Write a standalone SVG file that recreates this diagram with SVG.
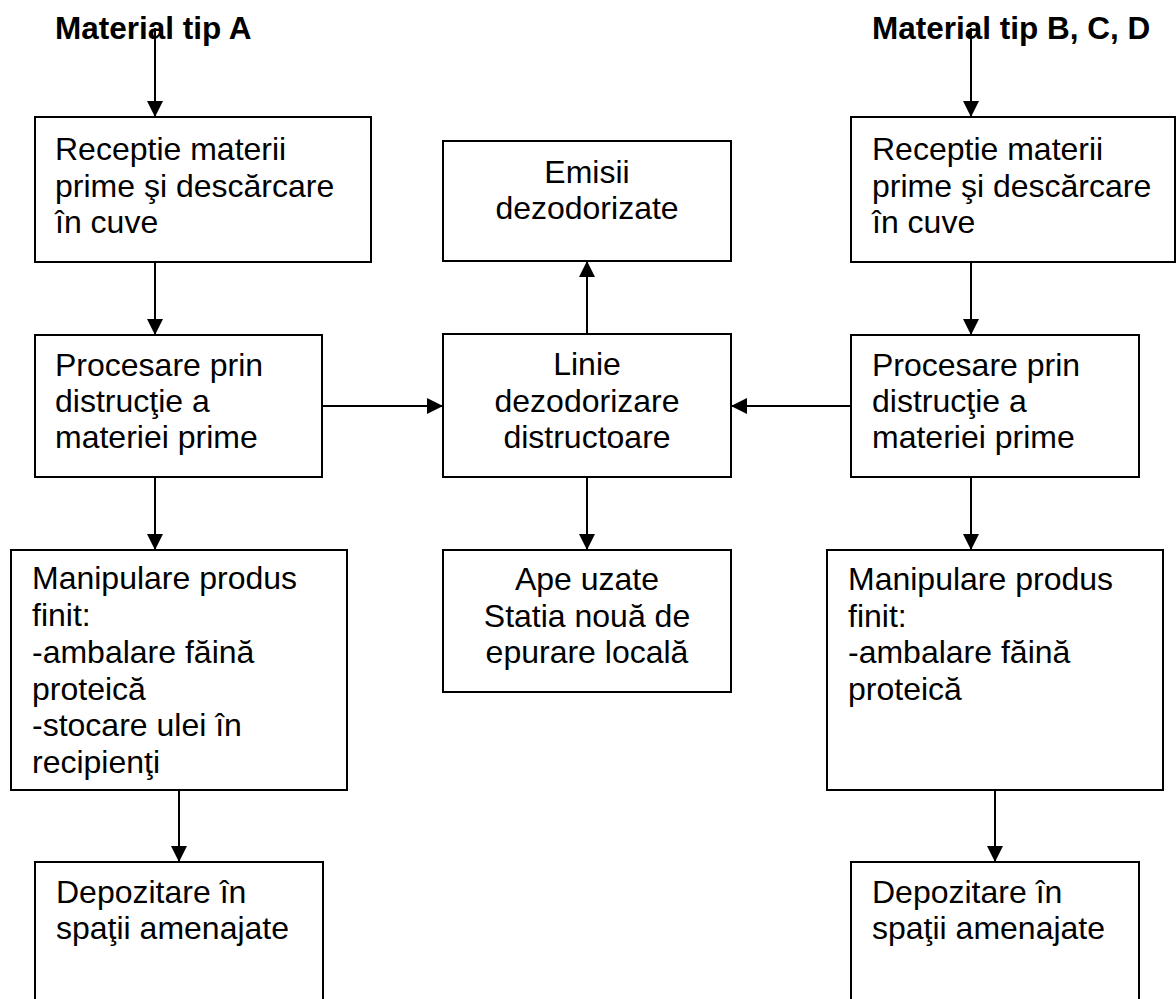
<svg xmlns="http://www.w3.org/2000/svg" width="1176" height="999" viewBox="0 0 1176 999">
<style>
.box{fill:#fff;stroke:#000;stroke-width:2}
.t{font-family:"Liberation Sans",Arial,sans-serif;font-size:32px;fill:#000}
.c{text-anchor:middle}
.title{font-family:"Liberation Sans",Arial,sans-serif;font-size:31.5px;font-weight:bold;fill:#000}
.ln{stroke:#000;stroke-width:2;fill:none;marker-end:url(#ah)}
</style>
<defs>
<marker id="ah" markerUnits="userSpaceOnUse" markerWidth="18" markerHeight="18" refX="16" refY="8" orient="auto">
<path d="M0,0 L16,8 L0,16 z" fill="#000"/>
</marker>
</defs>
<rect width="1176" height="999" fill="#fff"/>
<g id="title-a"><text class="title" x="55" y="39">Material tip A</text></g>
<g id="title-b"><text class="title" x="872" y="39">Material tip B, C, D</text></g>
<g id="a1"><rect class="box" x="35" y="117" width="336" height="145"/>
<text class="t" x="55" y="160">Receptie materii</text>
<text class="t" x="55" y="197">prime şi descărcare</text>
<text class="t" x="55" y="233">în cuve</text></g>
<g id="b1"><rect class="box" x="851" y="117" width="324" height="145"/>
<text class="t" x="872" y="160">Receptie materii</text>
<text class="t" x="872" y="197">prime şi descărcare</text>
<text class="t" x="872" y="233">în cuve</text></g>
<g id="c1"><rect class="box" x="443" y="141" width="288" height="120"/>
<text class="t c" x="587" y="183">Emisii</text>
<text class="t c" x="587" y="219">dezodorizate</text></g>
<g id="a2"><rect class="box" x="35" y="335" width="287" height="142"/>
<text class="t" x="55" y="376">Procesare prin</text>
<text class="t" x="55" y="412">distrucţie a</text>
<text class="t" x="55" y="448">materiei prime</text></g>
<g id="c2"><rect class="box" x="443" y="334" width="288" height="143"/>
<text class="t c" x="587" y="375">Linie</text>
<text class="t c" x="587" y="412">dezodorizare</text>
<text class="t c" x="587" y="448">distructoare</text></g>
<g id="b2"><rect class="box" x="851" y="335" width="288" height="142"/>
<text class="t" x="872" y="376">Procesare prin</text>
<text class="t" x="872" y="412">distrucţie a</text>
<text class="t" x="872" y="448">materiei prime</text></g>
<g id="c3"><rect class="box" x="443" y="550" width="288" height="142"/>
<text class="t c" x="587" y="590">Ape uzate</text>
<text class="t c" x="587" y="627">Statia nouă de</text>
<text class="t c" x="587" y="663">epurare locală</text></g>
<g id="a3"><rect class="box" x="11" y="550" width="336" height="240"/>
<text class="t" x="32" y="589">Manipulare produs</text>
<text class="t" x="32" y="626">finit:</text>
<text class="t" x="32" y="663">-ambalare făină</text>
<text class="t" x="32" y="700">proteică</text>
<text class="t" x="32" y="736">-stocare ulei în</text>
<text class="t" x="32" y="773">recipienţi</text></g>
<g id="b3"><rect class="box" x="827" y="550" width="336" height="240"/>
<text class="t" x="848" y="590">Manipulare produs</text>
<text class="t" x="848" y="627">finit:</text>
<text class="t" x="848" y="663">-ambalare făină</text>
<text class="t" x="848" y="700">proteică</text></g>
<g id="a4"><rect class="box" x="35" y="862" width="288" height="150"/>
<text class="t" x="56" y="903">Depozitare în</text>
<text class="t" x="56" y="939">spaţii amenajate</text></g>
<g id="b4"><rect class="box" x="851" y="862" width="288" height="150"/>
<text class="t" x="872" y="903">Depozitare în</text>
<text class="t" x="872" y="939">spaţii amenajate</text></g>
<g id="connectors">
<line class="ln" x1="155" y1="28" x2="155" y2="117"/>
<line class="ln" x1="971" y1="28" x2="971" y2="117"/>
<line class="ln" x1="155" y1="262" x2="155" y2="335"/>
<line class="ln" x1="971" y1="262" x2="971" y2="335"/>
<line class="ln" x1="322" y1="406" x2="443" y2="406"/>
<line class="ln" x1="851" y1="406" x2="731" y2="406"/>
<line class="ln" x1="587" y1="334" x2="587" y2="261"/>
<line class="ln" x1="587" y1="477" x2="587" y2="550"/>
<line class="ln" x1="155" y1="477" x2="155" y2="550"/>
<line class="ln" x1="971" y1="477" x2="971" y2="550"/>
<line class="ln" x1="179" y1="790" x2="179" y2="862"/>
<line class="ln" x1="995" y1="790" x2="995" y2="862"/>
</g>
</svg>
